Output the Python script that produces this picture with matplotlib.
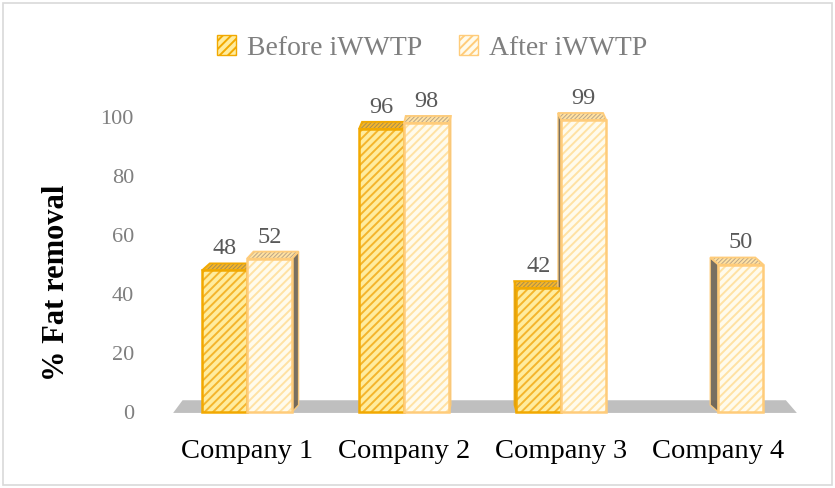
import matplotlib
matplotlib.use("Agg")
import matplotlib.pyplot as plt
from matplotlib.patches import Polygon, Patch, Rectangle

plt.rcParams['font.family'] = ['Liberation Serif', 'DejaVu Serif']
plt.rcParams['hatch.linewidth'] = 1.4

# data
companies = ['Company 1', 'Company 2', 'Company 3', 'Company 4']
before = [48, 96, 42, 0]
after = [52, 98, 99, 50]
series_names = ['Before iWWTP', 'After iWWTP']

BEFORE_FACE, BEFORE_HATCH, BEFORE_EDGE = '#FFEC9E', '#F4B52C', '#F2A900'
AFTER_FACE, AFTER_HATCH, AFTER_EDGE = '#FFFBEC', '#FFE2A3', '#FFCC7A'
TOP_BEFORE, TOP_AFTER = '#A8904E', '#BBA688'
SIDE = '#6B6150'

fig = plt.figure(figsize=(8.35, 4.88), dpi=100)
W, H = 835, 488
ax = fig.add_axes([170 / W, 1 - 420 / H, 630 / W, 320 / H])
ax.set_xlim(-0.49, 3.52)
ax.set_ylim(-2.7, 105.8)

width = 0.287
x = list(range(len(companies)))
vp = 1.48          # horizontal vanishing point (data units)
k = 0.031          # perspective strength
dy = 2.4           # depth of top faces (data units)

# floor
floor = Polygon([(-0.47, -0.3), (3.5, -0.3), (3.43, 4.0), (-0.41, 4.0)],
                closed=True, facecolor='#BFBFBF', edgecolor='none', zorder=1)
ax.add_patch(floor)


def draw_bar(x0, v, face, hatch_col, edge, top_col):
    if v <= 0:
        return
    x1 = x0 + width
    xc = x0 + width / 2
    dx = -(xc - vp) * k
    # side face
    if dx > 0:
        side = [(x1, 0), (x1, v), (x1 + dx, v + dy), (x1 + dx, dy)]
    else:
        side = [(x0, 0), (x0, v), (x0 + dx, v + dy), (x0 + dx, dy)]
    ax.add_patch(Polygon(side, closed=True, facecolor=SIDE, edgecolor=edge,
                         linewidth=1.0, alpha=0.9, zorder=2))
    # top face
    top = [(x0, v), (x1, v), (x1 + dx, v + dy), (x0 + dx, v + dy)]
    ax.add_patch(Polygon(top, closed=True, facecolor=top_col, edgecolor=hatch_col,
                         linewidth=0, hatch='////////', zorder=2))
    ax.add_patch(Polygon(top, closed=True, fill=False, edgecolor=edge,
                         linewidth=1.3, zorder=2))
    # front face
    ax.bar(x0, v, width, align='edge', color=face, edgecolor=hatch_col,
           linewidth=0, hatch='////', zorder=3)
    ax.bar(x0, v, width, align='edge', fill=False, edgecolor=edge,
           linewidth=1.8, zorder=3)


for i in x:
    draw_bar(i - width, before[i], BEFORE_FACE, BEFORE_HATCH, BEFORE_EDGE, TOP_BEFORE)
    draw_bar(i, after[i], AFTER_FACE, AFTER_HATCH, AFTER_EDGE, TOP_AFTER)

# value labels
for i in x:
    if before[i] > 0:
        ax.annotate(f'{before[i]}', (i - width / 2, before[i]), xytext=(0, 8),
                    textcoords='offset points', ha='center', va='bottom',
                    fontsize=17.5, color='#595959', zorder=5)
    ax.annotate(f'{after[i]}', (i + width / 2, after[i]), xytext=(0, 8),
                textcoords='offset points', ha='center', va='bottom',
                fontsize=17.5, color='#595959', zorder=5)

ax.set_yticks([0, 20, 40, 60, 80, 100])
ax.set_xticks(x)
ax.set_xticklabels(companies, fontsize=20.5, color='black')
ax.tick_params(axis='y', length=0, pad=26, labelsize=16, labelcolor='#7F7F7F')
ax.tick_params(axis='x', length=0, pad=14)
for s in ax.spines.values():
    s.set_visible(False)

ax.set_ylabel('% Fat removal', fontsize=22, fontweight='bold')
ax.yaxis.set_label_coords(-0.157, 0.428)

handles = [
    Patch(facecolor=BEFORE_FACE, edgecolor=BEFORE_EDGE, hatch='////', label=series_names[0]),
    Patch(facecolor=AFTER_FACE, edgecolor=AFTER_EDGE, hatch='////', label=series_names[1]),
]
leg = fig.legend(handles=handles, loc='center', bbox_to_anchor=(432 / W, 1 - 48 / H),
                 ncol=2, frameon=False, fontsize=20, handlelength=0.7,
                 handleheight=0.7, handletextpad=0.4, columnspacing=1.3)
for t in leg.get_texts():
    t.set_color('#7F7F7F')

# chart border
fig.patches.append(Rectangle((3 / W, 3 / H), 1 - 6 / W, 1 - 6 / H,
                             transform=fig.transFigure, fill=False,
                             edgecolor='#D9D9D9', linewidth=1.2))

fig.savefig('out.png', dpi=100)
